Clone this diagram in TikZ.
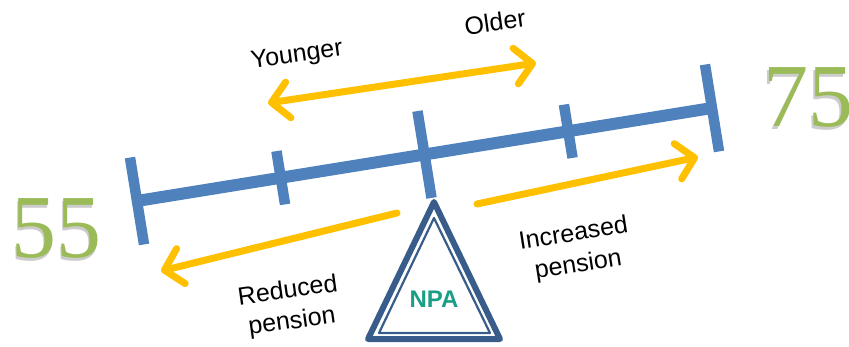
\documentclass[tikz,border=0pt]{standalone}
\usepackage{fontspec}
\setmainfont{Liberation Sans}
\newfontfamily\zahlfont{Liberation Serif}
\usetikzlibrary{arrows.meta, calc, positioning}
\definecolor{balkenblau}{RGB}{79,129,189}
\definecolor{dreieckblau}{RGB}{56,93,138}
\definecolor{pfeilgelb}{RGB}{255,192,0}
\definecolor{zahlgruen}{RGB}{155,187,89}
\definecolor{npagruen}{RGB}{26,158,133}

\begin{document}
\begin{tikzpicture}[x=1pt, y=-1pt,
					balken/.style={line width=12pt, balkenblau},
					strich/.style={line width=10.5pt, balkenblau},
					pfeil/.style={line width=7pt, pfeilgelb, line cap=round},
					>={Straight Barb[length=17pt, width=36pt, round]}, %Pfeilspitzen
					beschr/.style={font=\fontsize{25}{31}\selectfont, align=center, inner sep=0pt},
					zahl/.style={font=\zahlfont\fontsize{90}{90}\selectfont, inner sep=0pt},
					font=\fontsize{25}{31}\selectfont]
					%Bildbereich
					\useasboundingbox (0,0) rectangle (849,346);
					\clip (0,0) rectangle (849,346);
					% Balken zeichnen
					\coordinate (L) at (137,201);
					\coordinate (R) at (712,108);
					\draw[balken] (L) -- (R);
					\foreach \t/\h in {0/44, 0.25/27, 0.5/44, 0.75/27, 1/44}
						\draw[strich] ($(L)!\t!(R) + (-0.1597*\h, -0.9871*\h)$) -- ($(L)!\t!(R) + (0.1597*\h, 0.9871*\h)$);
					% Dreieck
					\coordinate (spitze) at (434,202);
					\draw[dreieckblau, line width=6pt, line join=round] (spitze) -- (500,339) -- (368,339) -- cycle;
					\draw[dreieckblau, line width=2.2pt, line join=round] (434,218) -- (490,333) -- (379,333) -- cycle;
					\node[font=\bfseries\fontsize{24}{30}\selectfont, text=npagruen] (npa) at (434,299) {NPA};
					% Pfeile
					\coordinate (jung) at (268,103);
					\coordinate (alt) at (536,63);
					\draw[pfeil, <->] (jung) -- (alt);
					\coordinate (mehrA) at (477,204);
					\coordinate (mehrB) at (698,157);
					\draw[pfeil, ->] (mehrA) -- (mehrB);
					\coordinate (wenigA) at (397,213);
					\coordinate (wenigB) at (161,271);
					\draw[pfeil, ->] (wenigA) -- (wenigB);
					% Beschriftung
					\node[beschr, rotate=8] (younger) at (297,56) {Younger};
					\node[beschr, rotate=8] (older) at (495,22) {Older};
					\node[beschr, rotate=9] (increased) at (576,250) {Increased\\pension};
					\node[beschr, rotate=8] (reduced) at (290,307) {Reduced\\pension};
					% Zahlen mit Schatten
					\node[zahl, text=black!20] (s55) at (55,231) {55};
					\node[zahl, text=zahlgruen] (z55) at (57,228) {55};
					\node[zahl, text=black!20] (s75) at (806,100) {75};
					\node[zahl, text=zahlgruen] (z75) at (808,97) {75};
				\end{tikzpicture}
\end{document}
